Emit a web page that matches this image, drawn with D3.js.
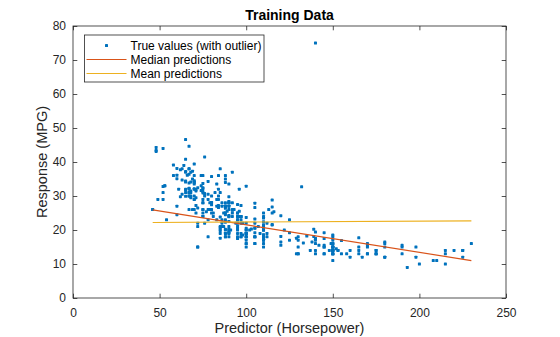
<!DOCTYPE html>
<html>
<head>
<meta charset="utf-8">
<script src="https://cdn.jsdelivr.net/npm/d3@7"></script>
<style>
  body { margin: 0; background: #fff; }
  svg { display: block; font-family: "Liberation Sans", Arial, Helvetica, sans-serif; }
</style>
</head>
<body>
<svg id="chart"></svg>
<script>
// Training data: horsepower vs MPG (car data)
const horsepower = [
  130,165,150,150,140,198,220,215,225,190, 170,160,150,225,95,95,97,85,88,46,
  87,90,95,113,90,215,200,210,193,88, 90,95,100,105,100,88,100,165,175,153,
  150,180,170,175,110,72,100,88,86,90, 70,76,65,69,60,70,95,80,54,90,
  86,165,175,150,153,150,208,155,160,190, 97,150,130,140,150,112,76,87,69,86,
  92,97,80,88,175,150,145,137,150,198, 150,158,150,215,225,175,105,100,100,88,
  95,46,150,167,170,180,100,88,72,94, 90,85,107,90,145,230,49,75,91,112,
  150,110,122,180,95,100,100,67,80,65, 75,100,110,105,140,150,150,140,150,83,
  67,78,52,61,75,75,75,97,93,67, 95,105,72,72,170,145,150,148,110,105,
  110,95,110,110,129,75,83,100,78,96, 71,97,97,70,90,95,88,98,115,53,
  86,81,92,79,83,140,150,120,152,100, 105,81,90,52,60,70,53,100,78,110,
  95,71,70,75,72,102,150,88,108,120, 180,145,130,150,68,80,58,96,70,145,
  110,145,130,110,105,100,98,180,170,190, 149,78,88,75,89,63,83,67,78,97,
  110,110,48,66,52,70,60,110,140,139, 105,95,85,88,100,90,105,85,110,120,
  145,165,139,140,68,95,97,75,95,105, 85,97,103,125,115,133,71,68,115,85,
  88,90,110,130,129,138,135,155,142,125, 150,71,65,80,80,77,125,71,90,70,
  70,65,69,90,115,115,90,76,60,70, 65,90,88,90,90,78,90,75,92,75,
  65,105,65,48,48,67,67,67,67,62, 132,100,88,72,84,84,92,110,84,58,
  64,60,67,65,62,68,63,65,65,74, 75,75,100,74,80,76,116,120,110,105,
  88,85,88,88,88,85,84,90,92,74, 68,68,63,70,88,75,70,67,67,67,
  110,85,92,112,96,84,90,86,52,84, 79,82
];
const mpg = [
  18,15,18,16,17,15,14,14,14,15, 15,14,15,14,24,22,18,21,27,26,
  25,24,25,26,21,10,10,11,9,27, 28,25,19,16,17,19,18,14,14,14,
  14,12,13,13,18,22,19,18,23,28, 30,30,31,35,27,26,24,25,23,20,
  21,13,14,15,14,17,11,13,12,13, 19,15,13,13,14,18,22,21,26,22,
  28,23,28,27,13,14,13,14,15,12, 13,13,14,13,12,13,18,16,18,18,
  23,26,11,12,13,12,18,20,21,22, 18,19,21,26,15,16,29,24,20,19,
  15,24,20,15,20,19,15,31,26,32, 25,16,16,18,16,13,14,14,14,29,
  26,26,31,32,28,24,26,24,26,31, 19,18,15,15,16,15,16,14,17,16,
  15,18,21,20,13,29,23,20,23,24, 25,24,18,29,19,23,23,22,25,33,
  28,25,25,26,27,17.5,16,15.5,14.5,22, 22,24,22.5,29,24.5,29,33,20,18,18.5,
  17.5,29.5,32,28,26.5,20,13,19,19,16.5, 16.5,13,13,13,31.5,30,36,25.5,33.5,17.5,
  17,15.5,15,17.5,20.5,19,18.5,16,15.5,15.5, 16,29,24.5,26,25.5,30.5,33.5,30,30.5,22,
  21.5,21.5,43.1,36.1,32.8,39.4,36.1,19.9,19.4,20.2, 19.2,20.5,20.2,25.1,20.5,19.4,20.6,20.8,18.6,18.1,
  19.2,17.7,18.1,17.5,30,27.5,27.2,30.9,21.1,23.2, 23.8,23.9,20.3,17,21.6,16.2,31.5,29.5,21.5,19.8,
  22.3,20.2,20.6,17,17.6,16.5,18.2,16.9,15.5,19.2, 18.5,31.9,34.1,35.7,27.4,25.4,23,27.2,23.9,34.2,
  34.5,31.8,37.3,28.4,28.8,26.8,33.5,41.5,38.1,32.1, 37.2,28,26.4,24.3,19.1,34.3,29.8,31.3,37,32.2,
  46.6,27.9,40.8,44.3,43.4,36.4,30,44.6,33.8,29.8, 32.7,23.7,35,32.4,27.2,26.6,25.8,23.5,30,39.1,
  39,35.1,32.3,37,37.7,34.1,34.7,34.4,29.9,33, 33.7,32.4,32.9,31.6,28.1,30.7,25.4,24.2,22.4,26.6,
  20.2,17.6,28,27,34,31,29,27,24,36, 37,31,38,36,36,36,34,38,32,38,
  25,38,26,22,32,36,27,27,44,32, 28,31
];
// the outlier
const outlierHp = [140];
const outlierMpg = [75];

// fitted lines (end points)
const fitHp = [46, 230];
const medianPred = [25.9, 11.0];
const meanPred = [22.2, 22.7];

const xTicks = [0, 50, 100, 150, 200, 250];
const yTicks = [0, 10, 20, 30, 40, 50, 60, 70, 80];

const legendLabels = ['True values (with outlier)', 'Median predictions', 'Mean predictions'];

const blue = '#0072BD', orange = '#D95319', yellow = '#EDB120', ink = '#262626';

// dimensions
const W = 560, H = 337;
const margin = { top: 26, right: 54, bottom: 39, left: 73 };
const width = W - margin.left - margin.right;
const height = H - margin.top - margin.bottom;

const svg = d3.select('#chart').attr('width', W).attr('height', H);
const g = svg.append('g').attr('transform', 'translate(' + margin.left + ',' + margin.top + ')');

const x = d3.scaleLinear().domain([0, 250]).range([0, width]);
const y = d3.scaleLinear().domain([0, 80]).range([height, 0]);

// axes (ticks pointing inward, box on)
const tick = 4.3;
const styleAxis = sel => {
  sel.select('.domain').remove();
  sel.selectAll('line').attr('stroke', ink).attr('stroke-width', 0.8);
  sel.selectAll('text').attr('fill', ink).style('font-size', '12px');
};

g.append('g')
  .attr('transform', 'translate(0,' + height + ')')
  .call(d3.axisBottom(x).tickValues(xTicks).tickSizeInner(-tick).tickSizeOuter(0).tickPadding(10))
  .call(styleAxis);
g.append('g')
  .call(d3.axisTop(x).tickValues(xTicks).tickSizeInner(-tick).tickSizeOuter(0).tickFormat(''))
  .call(styleAxis);
g.append('g')
  .call(d3.axisLeft(y).tickValues(yTicks).tickSizeInner(-tick).tickSizeOuter(0).tickPadding(7))
  .call(styleAxis);
g.append('g')
  .attr('transform', 'translate(' + width + ',0)')
  .call(d3.axisRight(y).tickValues(yTicks).tickSizeInner(-tick).tickSizeOuter(0).tickFormat(''))
  .call(styleAxis);

g.append('rect')
  .attr('x', 0).attr('y', 0).attr('width', width).attr('height', height)
  .attr('fill', 'none').attr('stroke', ink).attr('stroke-width', 0.8);

// scatter (small square '.' markers)
const dot = 3;
const pts = horsepower.map((h, i) => [h, mpg[i]])
  .concat(outlierHp.map((h, i) => [h, outlierMpg[i]]));
g.selectAll('.dot')
  .data(pts)
  .enter().append('rect')
  .attr('class', 'dot')
  .attr('x', d => x(d[0]) - dot / 2)
  .attr('y', d => y(d[1]) - dot / 2)
  .attr('width', dot).attr('height', dot)
  .attr('rx', 0.6)
  .attr('fill', blue);

// prediction lines
const line = d3.line().x(d => x(d[0])).y(d => y(d[1]));
g.append('path')
  .datum(fitHp.map((h, i) => [h, medianPred[i]]))
  .attr('d', line).attr('fill', 'none').attr('stroke', orange).attr('stroke-width', 1.2);
g.append('path')
  .datum(fitHp.map((h, i) => [h, meanPred[i]]))
  .attr('d', line).attr('fill', 'none').attr('stroke', yellow).attr('stroke-width', 1.2);

// labels
svg.append('text')
  .attr('x', margin.left + width / 2).attr('y', 20)
  .attr('text-anchor', 'middle')
  .attr('fill', 'black')
  .style('font-size', '14px').style('font-weight', 'bold')
  .text('Training Data');

svg.append('text')
  .attr('x', margin.left + width / 2).attr('y', 333)
  .attr('text-anchor', 'middle')
  .attr('fill', ink)
  .style('font-size', '14.5px')
  .text('Predictor (Horsepower)');

svg.append('text')
  .attr('transform', 'translate(47,' + (margin.top + height / 2) + ') rotate(-90)')
  .attr('text-anchor', 'middle')
  .attr('fill', ink)
  .style('font-size', '14.5px')
  .text('Response (MPG)');

// legend
const lg = svg.append('g').attr('transform', 'translate(84.5,35)');
lg.append('rect')
  .attr('width', 179.5).attr('height', 47)
  .attr('fill', 'white').attr('stroke', ink).attr('stroke-width', 0.8);
const rowY = [10.5, 24.5, 38.5];
lg.append('rect').attr('x', 22 - dot / 2).attr('y', rowY[0] - dot / 2)
  .attr('width', dot).attr('height', dot).attr('rx', 0.6).attr('fill', blue);
lg.append('line').attr('x1', 2).attr('x2', 42).attr('y1', rowY[1]).attr('y2', rowY[1])
  .attr('stroke', orange).attr('stroke-width', 1.2);
lg.append('line').attr('x1', 2).attr('x2', 42).attr('y1', rowY[2]).attr('y2', rowY[2])
  .attr('stroke', yellow).attr('stroke-width', 1.2);
lg.selectAll('.lt')
  .data(legendLabels)
  .enter().append('text')
  .attr('class', 'lt')
  .attr('x', 46)
  .attr('y', (d, i) => rowY[i])
  .attr('dy', '0.35em')
  .attr('fill', 'black')
  .style('font-size', '12px')
  .text(d => d);
</script>
</body>
</html>
